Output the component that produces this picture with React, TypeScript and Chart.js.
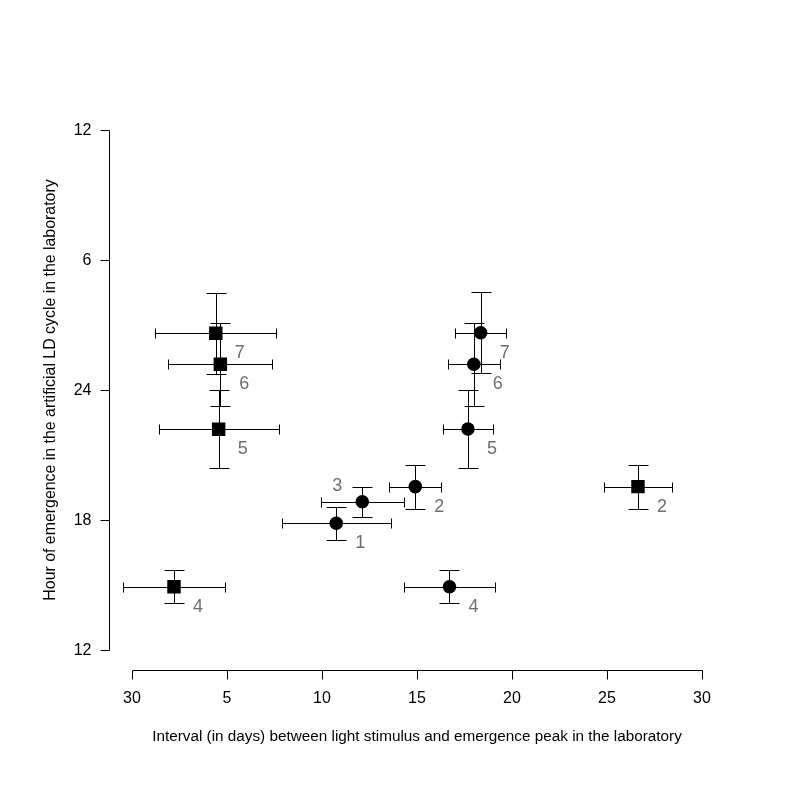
import React, { useEffect, useRef } from "react";
import { Chart, registerables } from "chart.js";

Chart.register(...registerables);

// squares
const squareLabels = ["4", "5", "6", "7", "2"];
const squareX = [2.21, 4.56, 4.65, 4.41, 26.63];
const squareXErr = [2.68, 3.16, 2.74, 3.18, 1.79];
const squareY = [14.92, 22.19, 25.19, 26.62, 19.54];
const squareYErr = [0.75, 1.81, 1.91, 1.87, 1.02];

// circles
const circleLabels = ["1", "2", "3", "4", "5", "6", "7"];
const circleX = [10.75, 14.91, 12.12, 16.71, 17.68, 17.99, 18.35];
const circleXErr = [2.88, 1.36, 2.19, 2.39, 1.33, 1.38, 1.33];
const circleY = [17.85, 19.54, 18.84, 14.92, 22.2, 25.19, 26.64];
const circleYErr = [0.75, 1.02, 0.7, 0.75, 1.81, 1.91, 1.87];

// axes
const xTicks = [0, 5, 10, 15, 20, 25, 30];
const xTickLabels = ["30", "5", "10", "15", "20", "25", "30"];
const yTicks = [12, 18, 24, 30, 36];
const yTickLabels = ["12", "18", "24", "6", "12"];

const xTitle = "Interval (in days) between light stimulus and emergence peak in the laboratory";
const yTitle = "Hour of emergence in the artificial LD cycle in the laboratory";

const FONT = "'Liberation Sans', Arial, sans-serif";
// label placement per point (style only): "br" below-right, "tl" above-left
const squarePlace = ["br", "br", "br", "br", "br"];
const circlePlace = ["br", "br", "tl", "br", "br", "br", "br"];
const placeOffset: Record<string, [number, number]> = { br: [24, 20], tl: [-25, -16] };

const crisp = (v: number) => Math.round(v) + 0.5;

const rPlot = {
  id: "rPlot",
  beforeDatasetsDraw(chart: any) {
    const { ctx, chartArea, scales } = chart;
    const xs = scales.x;
    const ys = scales.y;
    ctx.save();
    ctx.strokeStyle = "#000";
    ctx.lineWidth = 1;
    ctx.fillStyle = "#000";

    // x axis
    const ax = crisp(chartArea.bottom - 0.6);
    ctx.beginPath();
    ctx.moveTo(crisp(xs.getPixelForValue(xTicks[0])), ax);
    ctx.lineTo(crisp(xs.getPixelForValue(xTicks[xTicks.length - 1])), ax);
    xTicks.forEach((t) => {
      const px = crisp(xs.getPixelForValue(t));
      ctx.moveTo(px, ax);
      ctx.lineTo(px, ax + 9);
    });
    ctx.stroke();
    ctx.font = `16px ${FONT}`;
    ctx.textAlign = "center";
    ctx.textBaseline = "middle";
    xTicks.forEach((t, i) => {
      ctx.fillText(xTickLabels[i], xs.getPixelForValue(t), ax + 28);
    });

    // y axis
    const ay = crisp(chartArea.left - 0.2);
    ctx.beginPath();
    ctx.moveTo(ay, crisp(ys.getPixelForValue(yTicks[0])));
    ctx.lineTo(ay, crisp(ys.getPixelForValue(yTicks[yTicks.length - 1])));
    yTicks.forEach((t) => {
      const py = crisp(ys.getPixelForValue(t));
      ctx.moveTo(ay, py);
      ctx.lineTo(ay - 9, py);
    });
    ctx.stroke();
    ctx.textAlign = "right";
    yTicks.forEach((t, i) => {
      ctx.fillText(yTickLabels[i], ay - 18, ys.getPixelForValue(t) + 1);
    });

    // titles
    ctx.textAlign = "center";
    ctx.font = `15.3px ${FONT}`;
    ctx.fillText(xTitle, (chartArea.left + chartArea.right) / 2, ax + 66);
    ctx.font = `15.9px ${FONT}`;
    ctx.save();
    ctx.translate(51, (chartArea.top + chartArea.bottom) / 2);
    ctx.rotate(-Math.PI / 2);
    ctx.fillText(yTitle, 0, 0);
    ctx.restore();

    // error bars
    const bars = (X: number[], XE: number[], Y: number[], YE: number[]) => {
      X.forEach((x, i) => {
        const cx = crisp(xs.getPixelForValue(x));
        const cy = crisp(ys.getPixelForValue(Y[i]));
        const x0 = crisp(xs.getPixelForValue(x - XE[i]));
        const x1 = crisp(xs.getPixelForValue(x + XE[i]));
        const y0 = crisp(ys.getPixelForValue(Y[i] - YE[i]));
        const y1 = crisp(ys.getPixelForValue(Y[i] + YE[i]));
        ctx.beginPath();
        ctx.moveTo(x0, cy);
        ctx.lineTo(x1, cy);
        ctx.moveTo(x0, cy - 5);
        ctx.lineTo(x0, cy + 5);
        ctx.moveTo(x1, cy - 5);
        ctx.lineTo(x1, cy + 5);
        ctx.moveTo(cx, y0);
        ctx.lineTo(cx, y1);
        ctx.moveTo(cx - 10, y0);
        ctx.lineTo(cx + 10, y0);
        ctx.moveTo(cx - 10, y1);
        ctx.lineTo(cx + 10, y1);
        ctx.stroke();
      });
    };
    bars(squareX, squareXErr, squareY, squareYErr);
    bars(circleX, circleXErr, circleY, circleYErr);
    ctx.restore();
  },
  afterDatasetsDraw(chart: any) {
    const { ctx, scales } = chart;
    ctx.save();
    ctx.fillStyle = "#6e6e6e";
    ctx.font = `18px ${FONT}`;
    ctx.textAlign = "center";
    ctx.textBaseline = "middle";
    const lab = (X: number[], Y: number[], L: string[], P: string[]) => {
      X.forEach((x, i) => {
        const [dx, dy] = placeOffset[P[i]];
        ctx.fillText(L[i], scales.x.getPixelForValue(x) + dx, scales.y.getPixelForValue(Y[i]) + dy);
      });
    };
    lab(squareX, squareY, squareLabels, squarePlace);
    lab(circleX, circleY, circleLabels, circlePlace);
    ctx.restore();
  },
};

const App: React.FC = () => {
  const chartRef = useRef<HTMLCanvasElement>(null);
  const chartInstance = useRef<Chart | null>(null);

  useEffect(() => {
    if (!chartRef.current) return;
    if (chartInstance.current) chartInstance.current.destroy();
    const ctx = chartRef.current.getContext("2d");
    if (!ctx) return;

    chartInstance.current = new Chart(ctx, {
      type: "scatter",
      data: {
        datasets: [
          {
            label: "squares",
            data: squareX.map((x, i) => ({ x, y: squareY[i] })),
            pointStyle: "rect",
            pointRadius: 9.5,
            backgroundColor: "#000",
            borderColor: "#000",
            borderWidth: 0,
          },
          {
            label: "circles",
            data: circleX.map((x, i) => ({ x, y: circleY[i] })),
            pointStyle: "circle",
            pointRadius: 6.8,
            backgroundColor: "#000",
            borderColor: "#000",
            borderWidth: 0,
          },
        ],
      },
      options: {
        responsive: true,
        maintainAspectRatio: false,
        animation: false,
        layout: { padding: { left: 109.2, top: 109.2, right: 74.2, bottom: 127.2 } },
        scales: {
          x: { type: "linear", min: -1.2, max: 31.2, display: false },
          y: { type: "linear", min: 11.04, max: 36.96, display: false },
        },
        plugins: {
          legend: { display: false },
          tooltip: { enabled: false },
        },
      },
      plugins: [rPlot],
    });

    return () => {
      if (chartInstance.current) {
        chartInstance.current.destroy();
        chartInstance.current = null;
      }
    };
  }, []);

  return (
    <div style={{ position: "fixed", left: 0, top: 0, width: 799, height: 798, background: "#fff" }}>
      <canvas ref={chartRef}></canvas>
    </div>
  );
};

export default App;
